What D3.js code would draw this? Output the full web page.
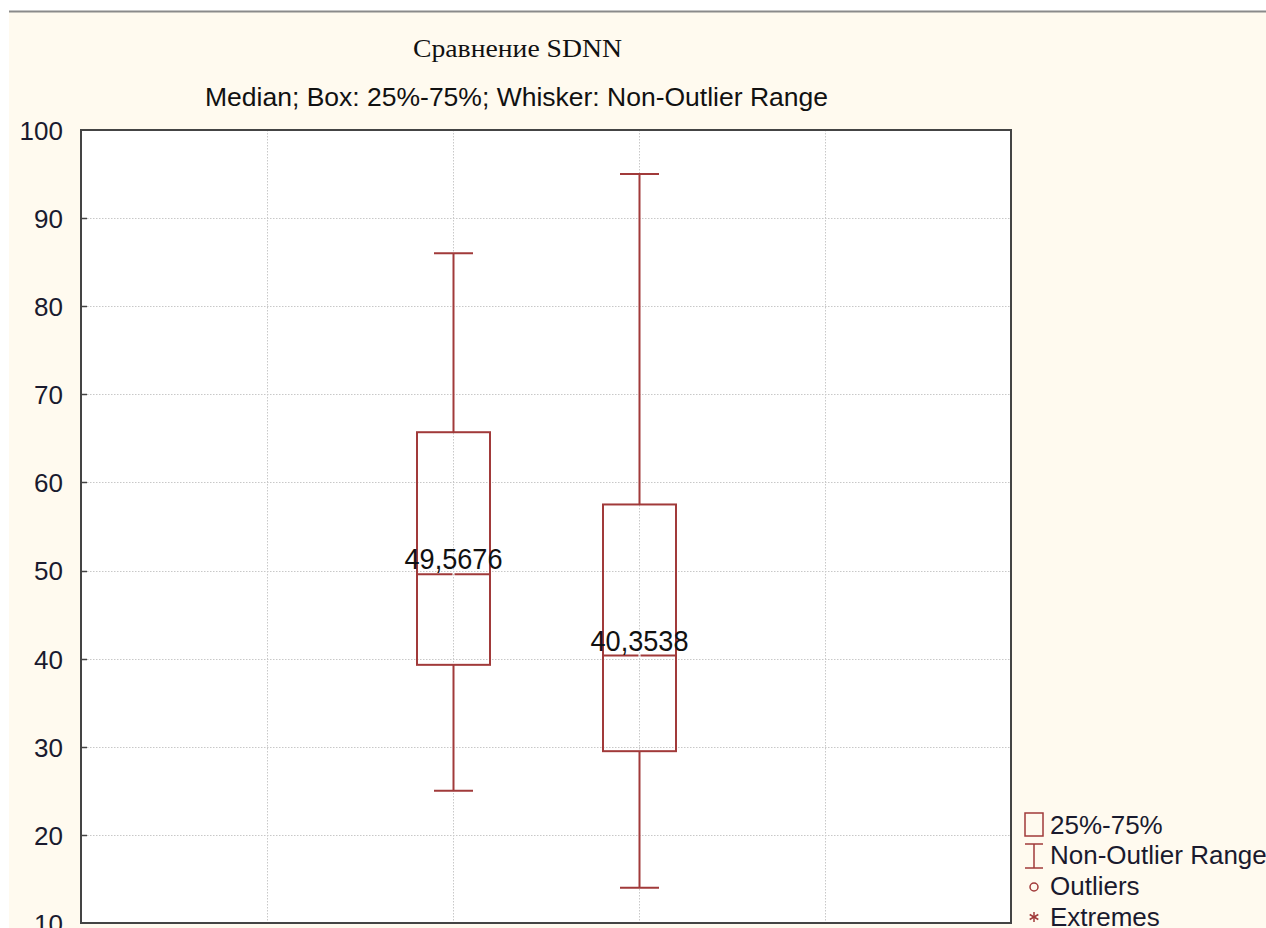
<!DOCTYPE html>
<html><head><meta charset="utf-8">
<script src="https://cdn.jsdelivr.net/npm/d3@7"></script>
<style>body{margin:0;background:#fff;overflow:hidden}</style>
</head><body>
<svg id="c" width="1266" height="928"></svg>
<script>
const groups = ["A", "B"];
const whiskerHigh = [86, 95];
const q3 = [65.7, 57.5];
const medians = [49.5676, 40.3538];
const medianLabels = ["49,5676", "40,3538"];
const q1 = [39.3, 29.5];
const whiskerLow = [25, 14];
const yTicks = [10, 20, 30, 40, 50, 60, 70, 80, 90, 100];
const legendItems = ["25%-75%", "Non-Outlier Range", "Outliers", "Extremes"];

const svg = d3.select("#c");
const W = 1266, H = 928;
const m = {l: 81, r: 1011, t: 130, b: 923};
const col = "#a13a3a";
const sans = "Liberation Sans, Arial, sans-serif";

svg.append("rect").attr("x", 9).attr("y", 11).attr("width", W - 9).attr("height", H - 11).attr("fill", "#fffaef");
svg.append("line").attr("x1", 9).attr("x2", W).attr("y1", 11.5).attr("y2", 11.5).attr("stroke", "#8a8a8a").attr("stroke-width", 2);

const y = d3.scaleLinear().domain([10, 100]).range([m.b, m.t]);
const x = d3.scaleLinear().domain([0, 5]).range([m.l, m.r]);
const xPos = i => x(i + 2);

svg.append("rect").attr("x", m.l).attr("y", m.t).attr("width", m.r - m.l).attr("height", m.b - m.t).attr("fill", "#fff");

// grid
const g = svg.append("g");
g.selectAll(".hg").data(yTicks.filter(t => t > 10 && t < 100)).join("line")
  .attr("x1", m.l).attr("x2", m.r).attr("y1", d => Math.round(y(d)) + 0.5).attr("y2", d => Math.round(y(d)) + 0.5)
  .attr("stroke", "#c8c8c8").attr("stroke-dasharray", "1.5,1.5");
g.selectAll(".vg").data([1, 2, 3, 4]).join("line")
  .attr("y1", m.t).attr("y2", m.b).attr("x1", d => Math.round(x(d)) + 0.5).attr("x2", d => Math.round(x(d)) + 0.5)
  .attr("stroke", "#c8c8c8").attr("stroke-dasharray", "1.5,1.5");

// axis
const ax = svg.append("g").attr("transform", `translate(${m.l},0)`)
  .call(d3.axisLeft(y).tickValues(yTicks).tickSize(0).tickPadding(18));
ax.select(".domain").remove();
ax.selectAll("text").attr("font-family", sans).attr("font-size", 26).attr("fill", "#1a1a2e").attr("dy", "0.36em");
svg.selectAll(".tk").data(yTicks.filter(t => t > 10 && t < 100)).join("line")
  .attr("x1", m.l).attr("x2", m.l + 6).attr("y1", d => Math.round(y(d)) + 0.5).attr("y2", d => Math.round(y(d)) + 0.5)
  .attr("stroke", "#444").attr("stroke-width", 1.5);

svg.append("rect").attr("x", m.l).attr("y", m.t).attr("width", m.r - m.l).attr("height", m.b - m.t)
  .attr("fill", "none").attr("stroke", "#444").attr("stroke-width", 2);

// boxes
const bw = 73, cw = 39;
groups.forEach((gname, i) => {
  const cx = Math.round(xPos(i)) + 0.5;
  const bg = svg.append("g").attr("stroke", col).attr("stroke-width", 2).attr("fill", "none");
  bg.append("line").attr("x1", cx).attr("x2", cx).attr("y1", y(whiskerHigh[i])).attr("y2", y(q3[i]));
  bg.append("line").attr("x1", cx).attr("x2", cx).attr("y1", y(q1[i])).attr("y2", y(whiskerLow[i]));
  bg.append("line").attr("x1", cx - cw / 2).attr("x2", cx + cw / 2).attr("y1", y(whiskerHigh[i])).attr("y2", y(whiskerHigh[i]));
  bg.append("line").attr("x1", cx - cw / 2).attr("x2", cx + cw / 2).attr("y1", y(whiskerLow[i])).attr("y2", y(whiskerLow[i]));
  bg.append("rect").attr("x", cx - bw / 2).attr("y", y(q3[i])).attr("width", bw).attr("height", y(q1[i]) - y(q3[i]));
  bg.append("line").attr("x1", cx - bw / 2).attr("x2", cx - 1).attr("y1", y(medians[i])).attr("y2", y(medians[i]));
  bg.append("line").attr("x1", cx + 1).attr("x2", cx + bw / 2).attr("y1", y(medians[i])).attr("y2", y(medians[i]));
  svg.append("text").attr("x", cx).attr("y", y(medians[i]) - 5).attr("text-anchor", "middle")
    .attr("font-family", sans).attr("font-size", 29).attr("fill", "#111")
    .attr("textLength", 98).attr("lengthAdjust", "spacingAndGlyphs")
    .text(medianLabels[i]);
});

// titles
svg.append("text").attr("x", 413).attr("y", 57)
  .attr("font-family", "Liberation Serif, Times New Roman, serif").attr("font-size", 26).attr("fill", "#111")
  .attr("textLength", 209).attr("lengthAdjust", "spacingAndGlyphs").text("Сравнение SDNN");
svg.append("text").attr("x", 205).attr("y", 106)
  .attr("font-family", sans).attr("font-size", 26).attr("fill", "#111")
  .attr("textLength", 623).attr("lengthAdjust", "spacingAndGlyphs")
  .text("Median; Box: 25%-75%; Whisker: Non-Outlier Range");

// legend
const lg = svg.append("g");
const ly = [825, 855, 886, 917];
legendItems.forEach((t, i) => {
  lg.append("text").attr("x", 1050).attr("y", ly[i]).attr("dy", "0.36em")
    .attr("font-family", sans).attr("font-size", 26).attr("fill", "#1a1a2e").text(t);
});
lg.append("rect").attr("x", 1025).attr("y", 813).attr("width", 18).attr("height", 23).attr("fill", "none").attr("stroke", col).attr("stroke-width", 1.5);
lg.append("line").attr("x1", 1025).attr("x2", 1043).attr("y1", 844).attr("y2", 844).attr("stroke", col).attr("stroke-width", 1.5);
lg.append("line").attr("x1", 1025).attr("x2", 1043).attr("y1", 868).attr("y2", 868).attr("stroke", col).attr("stroke-width", 1.5);
lg.append("line").attr("x1", 1034).attr("x2", 1034).attr("y1", 844).attr("y2", 868).attr("stroke", col).attr("stroke-width", 1.5);
lg.append("circle").attr("cx", 1034).attr("cy", 887).attr("r", 4).attr("fill", "none").attr("stroke", col).attr("stroke-width", 1.5);
const sx = 1034, sy = 917;
[[0, 5], [4.3, 2.5], [4.3, -2.5]].forEach(([dx, dy]) => {
  lg.append("line").attr("x1", sx - dx).attr("x2", sx + dx).attr("y1", sy - dy).attr("y2", sy + dy).attr("stroke", col).attr("stroke-width", 1.5);
});
</script>
</body></html>
